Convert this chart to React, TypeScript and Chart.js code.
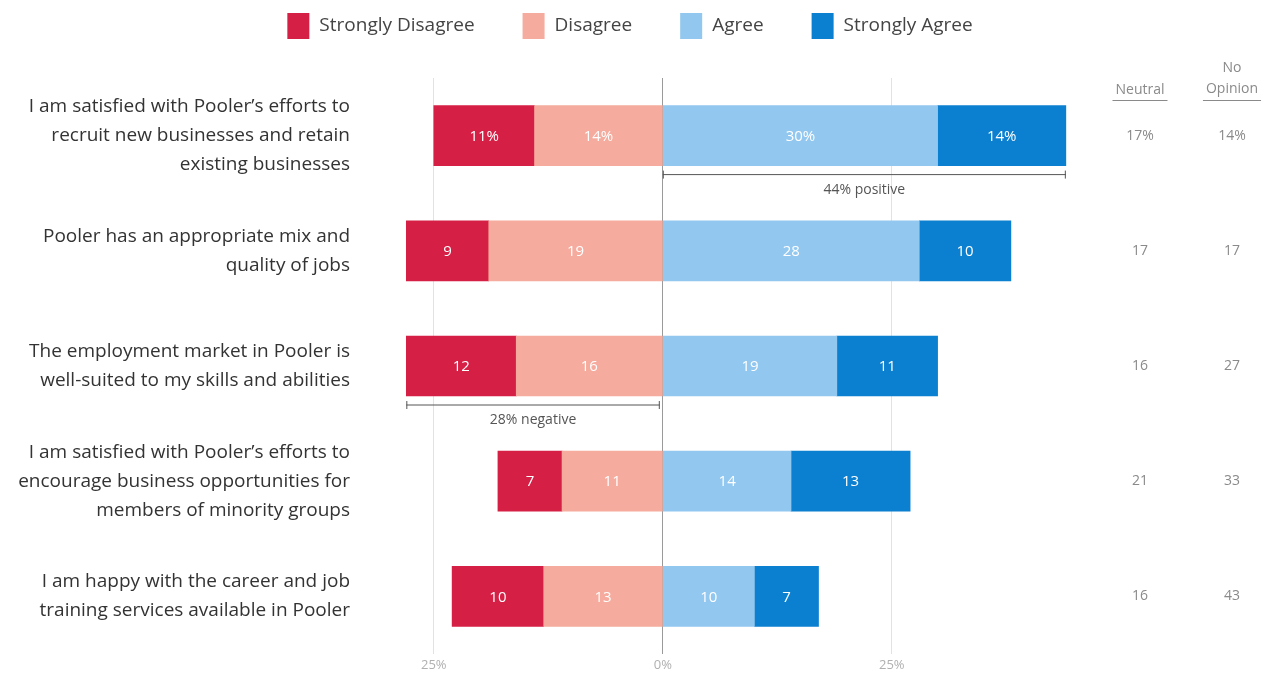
import React, { useEffect, useRef } from "react";
import { Chart, registerables } from "chart.js";

Chart.register(...registerables);

const categories: string[][] = [
  ["I am satisfied with Pooler’s efforts to", "recruit new businesses and retain", "existing businesses"],
  ["Pooler has an appropriate mix and", "quality of jobs"],
  ["The employment market in Pooler is", "well-suited to my skills and abilities"],
  ["I am satisfied with Pooler’s efforts to", "encourage business opportunities for", "members of minority groups"],
  ["I am happy with the career and job", "training services available in Pooler"],
];

const stronglyDisagree = [11, 9, 12, 7, 10];
const disagree = [14, 19, 16, 11, 13];
const agree = [30, 28, 19, 14, 10];
const stronglyAgree = [14, 10, 11, 13, 7];
const neutral = [17, 17, 16, 21, 16];
const noOpinion = [14, 17, 27, 33, 43];

const xTicks = [-25, 0, 25];
const legendLabels = ["Strongly Disagree", "Disagree", "Agree", "Strongly Agree"];

const COLORS = {
  sd: "#d61f45",
  d: "#f5ab9d",
  a: "#92c7ef",
  sa: "#0b7fd0",
};
const FONT = "'Open Sans', 'Noto Sans', sans-serif";

const labelsPlugin = {
  id: "customDraw",
  afterDatasetsDraw(chart: any) {
    const ctx = chart.ctx;
    const xScale = chart.scales.x;
    ctx.save();
    ctx.font = `15px ${FONT}`;
    ctx.fillStyle = "#ffffff";
    ctx.textAlign = "center";
    ctx.textBaseline = "middle";
    chart.data.datasets.forEach((ds: any, di: number) => {
      const meta = chart.getDatasetMeta(di);
      meta.data.forEach((el: any, i: number) => {
        const v = Math.abs(ds.data[i]);
        const txt = i === 0 ? `${v}%` : `${v}`;
        ctx.fillText(txt, (el.x + el.base) / 2, el.y + 1);
      });
    });

    const meta0 = chart.getDatasetMeta(0);
    const drawBracket = (x1: number, x2: number, y: number, text: string) => {
      ctx.strokeStyle = "#555";
      ctx.lineWidth = 1;
      ctx.beginPath();
      ctx.moveTo(x1, y);
      ctx.lineTo(x2, y);
      ctx.moveTo(x1 + 0.5, y - 4);
      ctx.lineTo(x1 + 0.5, y + 4);
      ctx.moveTo(x2 - 0.5, y - 4);
      ctx.lineTo(x2 - 0.5, y + 4);
      ctx.stroke();
      ctx.fillStyle = "#555";
      ctx.font = `14px ${FONT}`;
      ctx.textAlign = "center";
      ctx.textBaseline = "middle";
      ctx.fillText(text, (x1 + x2) / 2, y + 15);
    };
    const pos0 = agree[0] + stronglyAgree[0];
    const el0 = meta0.data[0];
    drawBracket(xScale.getPixelForValue(0), xScale.getPixelForValue(pos0), el0.y + 39, `${pos0}% positive`);
    const neg2 = stronglyDisagree[2] + disagree[2];
    const el2 = meta0.data[2];
    drawBracket(xScale.getPixelForValue(-neg2), xScale.getPixelForValue(0) - 3, el2.y + 39, `${neg2}% negative`);

    const colN = 1132;
    const colO = 1224;
    ctx.fillStyle = "#8a8a8a";
    ctx.font = `14px ${FONT}`;
    ctx.textAlign = "center";
    ctx.textBaseline = "middle";
    ctx.fillText("Neutral", colN, 82);
    ctx.fillText("No", colO, 60);
    ctx.fillText("Opinion", colO, 81);
    ctx.strokeStyle = "#8a8a8a";
    ctx.lineWidth = 1;
    const wN = ctx.measureText("Neutral").width;
    const wO = ctx.measureText("Opinion").width;
    ctx.beginPath();
    ctx.moveTo(colN - wN / 2 - 3, 92.5);
    ctx.lineTo(colN + wN / 2 + 3, 92.5);
    ctx.moveTo(colO - wO / 2 - 3, 92.5);
    ctx.lineTo(colO + wO / 2 + 3, 92.5);
    ctx.stroke();
    meta0.data.forEach((el: any, i: number) => {
      ctx.fillText(i === 0 ? `${neutral[i]}%` : `${neutral[i]}`, colN, el.y);
      ctx.fillText(i === 0 ? `${noOpinion[i]}%` : `${noOpinion[i]}`, colO, el.y);
    });

    const colors = [COLORS.sd, COLORS.d, COLORS.a, COLORS.sa];
    ctx.font = `19px ${FONT}`;
    const boxW = 22;
    const gapText = 10;
    const gapItem = 48;
    const widths = legendLabels.map((t) => boxW + gapText + ctx.measureText(t).width);
    const total = widths.reduce((s, w) => s + w, 0) + gapItem * (widths.length - 1);
    let x = 622 - total / 2;
    legendLabels.forEach((t, i) => {
      ctx.fillStyle = colors[i];
      ctx.fillRect(x, 5, boxW, 26);
      ctx.fillStyle = "#444";
      ctx.textAlign = "left";
      ctx.textBaseline = "middle";
      ctx.fillText(t, x + boxW + gapText, 18);
      x += widths[i] + gapItem;
    });
    ctx.restore();
  },
};

export default function App() {
  const ref = useRef<HTMLCanvasElement | null>(null);
  useEffect(() => {
    if (!ref.current) return;
    const chart = new Chart(ref.current, {
      type: "bar",
      data: {
        labels: categories,
        datasets: [
          { label: "Disagree", data: disagree.map((v) => -v), backgroundColor: COLORS.d, stack: "s" },
          { label: "Strongly Disagree", data: stronglyDisagree.map((v) => -v), backgroundColor: COLORS.sd, stack: "s" },
          { label: "Agree", data: agree, backgroundColor: COLORS.a, stack: "s" },
          { label: "Strongly Agree", data: stronglyAgree, backgroundColor: COLORS.sa, stack: "s" },
        ],
      },
      options: {
        indexAxis: "y",
        animation: false,
        responsive: false,
        devicePixelRatio: 1,
        layout: { padding: { top: 70, right: 188, bottom: 0, left: 0 } },
        datasets: { bar: { barThickness: 60, borderWidth: 0 } },
        plugins: { legend: { display: false }, tooltip: { enabled: false } },
        scales: {
          x: {
            type: "linear",
            min: -30,
            max: 45,
            stacked: true,
            afterBuildTicks: (scale: any) => {
              scale.ticks = xTicks.map((v) => ({ value: v }));
            },
            afterFit: (scale: any) => {
              scale.height = 19;
              scale.paddingLeft = 0;
              scale.paddingRight = 0;
            },
            ticks: {
              color: "#b0b0b0",
              font: { size: 13, family: FONT },
              padding: 3,
              callback: (v: any) => `${Math.abs(Number(v))}%`,
            },
            grid: {
              drawTicks: false,
              color: (c: any) => (c.tick && c.tick.value === 0 ? "#9a9a9a" : "#e2e2e2"),
              lineWidth: 1,
            },
            border: { display: false },
          },
          y: {
            stacked: true,
            afterFit: (scale: any) => {
              scale.width = 380;
              scale.paddingTop = 0;
              scale.paddingBottom = 0;
            },
            ticks: {
              color: "#333",
              font: { size: 19, family: FONT, lineHeight: 1.53 },
              padding: 38,
            },
            grid: { display: false, drawTicks: false },
            border: { display: false },
          },
        },
      },
      plugins: [labelsPlugin],
    } as any);
    return () => chart.destroy();
  }, []);
  return (
    <div style={{ width: 1255, height: 665 }}>
      <canvas ref={ref} width={1255} height={665} style={{ display: "block", width: 1255, height: 665 }} />
    </div>
  );
}
